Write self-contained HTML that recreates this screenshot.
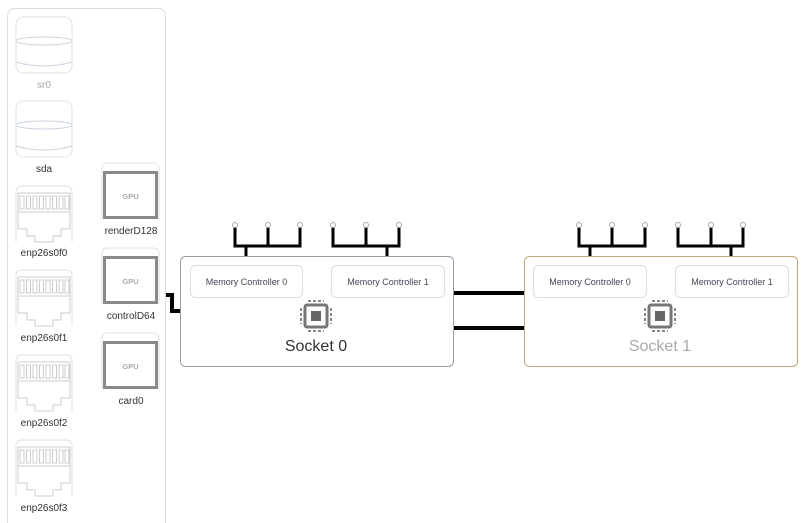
<!DOCTYPE html>
<html><head><meta charset="utf-8"><style>
html,body{margin:0;padding:0;background:#fff;}
svg{display:block;font-family:"Liberation Sans",sans-serif;}
</style></head><body>
<svg width="807" height="523" viewBox="0 0 807 523" xmlns="http://www.w3.org/2000/svg">
<defs>
<g id="disk">
<rect x="0" y="0" width="56" height="56" rx="7" fill="#fff" stroke="#e2e2e2"/>
<ellipse cx="28" cy="24" rx="28" ry="4" fill="none" stroke="#c8d4e0"/>
<path d="M0,45 Q28,53 56,45" fill="none" stroke="#c8d4e0"/>
</g>
<g id="eth">
<path d="M0,56 L0,6 Q0,0 6,0 L50,0 Q56,0 56,6 L56,56" fill="none" stroke="#e2e2e2"/>
<rect x="2" y="7" width="52" height="19" fill="none" stroke="#ccc"/>
<g fill="none" stroke="#ccc">
<rect x="4" y="10" width="4" height="13"/><rect x="10.5" y="10" width="4" height="13"/><rect x="17" y="10" width="4" height="13"/><rect x="23.5" y="10" width="4" height="13"/><rect x="30" y="10" width="4" height="13"/><rect x="36.5" y="10" width="4" height="13"/><rect x="43" y="10" width="4" height="13"/><rect x="49" y="10" width="4" height="13"/>
</g>
<path d="M2,26 L2,43 L11,43 L11,50 L19,50 L19,56 L37,56 L37,50 L45,50 L45,43 L54,43 L54,26" fill="none" stroke="#ccc"/>
</g>
<g id="gpu">
<path d="M0,56 L0,6 Q0,0 6,0 L51,0 Q57,0 57,6 L57,56" fill="none" stroke="#e2e2e2"/>
<rect x="2.5" y="9.5" width="52" height="45" fill="#fff" stroke="#8a8a8a" stroke-width="3"/>
<text x="28.5" y="36" font-size="7.5" fill="#aaa" text-anchor="middle" font-weight="bold">GPU</text>
</g>
<g id="chip">
<rect x="-11" y="-11" width="22" height="22" rx="2" fill="none" stroke="#777" stroke-width="3"/>
<rect x="-5" y="-5" width="10" height="10" fill="#666"/>
<g stroke="#888" stroke-width="2" stroke-dasharray="3,2">
<line x1="-8" y1="-15" x2="8" y2="-15"/><line x1="-8" y1="15" x2="8" y2="15"/>
<line x1="-15" y1="-8" x2="-15" y2="8"/><line x1="15" y1="-8" x2="15" y2="8"/>
</g>
</g>
</defs>

<rect x="7.5" y="8.5" width="158" height="530" rx="7" fill="#fff" stroke="#ddd"/>

<use href="#disk" x="16" y="17"/>
<text x="44" y="88" font-size="10" fill="#aaa" text-anchor="middle">sr0</text>
<use href="#disk" x="16" y="101"/>
<text x="44" y="172" font-size="10" fill="#333" text-anchor="middle">sda</text>
<use href="#eth" x="16" y="186"/>
<text x="44" y="256" font-size="10" fill="#333" text-anchor="middle">enp26s0f0</text>
<use href="#eth" x="16" y="270"/>
<text x="44" y="341" font-size="10" fill="#333" text-anchor="middle">enp26s0f1</text>
<use href="#eth" x="16" y="355"/>
<text x="44" y="426" font-size="10" fill="#333" text-anchor="middle">enp26s0f2</text>
<use href="#eth" x="16" y="440"/>
<text x="44" y="511" font-size="10" fill="#333" text-anchor="middle">enp26s0f3</text>

<use href="#gpu" x="102" y="163"/>
<text x="131" y="234" font-size="10" fill="#333" text-anchor="middle">renderD128</text>
<use href="#gpu" x="102" y="248"/>
<text x="131" y="319" font-size="10" fill="#333" text-anchor="middle">controlD64</text>
<use href="#gpu" x="102" y="333"/>
<text x="131" y="404" font-size="10" fill="#333" text-anchor="middle">card0</text>

<path d="M166,295 L172,295 L172,311 L181,311" fill="none" stroke="#000" stroke-width="4"/>

<line x1="454" y1="293" x2="524" y2="293" stroke="#000" stroke-width="4"/>
<line x1="454" y1="328" x2="524" y2="328" stroke="#000" stroke-width="4"/>

<!-- memory trees -->
<g fill="none" stroke="#000" stroke-width="3">
<path d="M235,225 V246 H300 V225 M268,225 V246 M246,246 V266"/>
<path d="M333,225 V246 H399 V225 M366,225 V246 M387,246 V266"/>
<path d="M579,225 V246 H645 V225 M612,225 V246 M590,246 V266"/>
<path d="M678,225 V246 H743 V225 M711,225 V246 M731,246 V266"/>
</g>
<g fill="#fff" stroke="#aaa" stroke-width="1">
<circle cx="235" cy="225" r="2.5"/><circle cx="268" cy="225" r="2.5"/><circle cx="300" cy="225" r="2.5"/>
<circle cx="333" cy="225" r="2.5"/><circle cx="366" cy="225" r="2.5"/><circle cx="399" cy="225" r="2.5"/>
<circle cx="579" cy="225" r="2.5"/><circle cx="612" cy="225" r="2.5"/><circle cx="645" cy="225" r="2.5"/>
<circle cx="678" cy="225" r="2.5"/><circle cx="711" cy="225" r="2.5"/><circle cx="743" cy="225" r="2.5"/>
</g>

<rect x="180.5" y="256.5" width="273" height="110" rx="5" fill="#fff" stroke="#9a9aa8"/>
<rect x="190.5" y="265.5" width="112" height="32" rx="5" fill="#fff" stroke="#ddd"/>
<text x="246.5" y="285" font-size="9" fill="#445" text-anchor="middle">Memory Controller 0</text>
<rect x="331.5" y="265.5" width="113" height="32" rx="5" fill="#fff" stroke="#ddd"/>
<text x="388" y="285" font-size="9" fill="#445" text-anchor="middle">Memory Controller 1</text>
<use href="#chip" x="316" y="316"/>
<text x="316" y="351" font-size="16" fill="#333" text-anchor="middle">Socket 0</text>

<rect x="524.5" y="256.5" width="273" height="110" rx="5" fill="#fff" stroke="#c8a47e"/>
<rect x="533.5" y="265.5" width="113" height="32" rx="5" fill="#fff" stroke="#ddd"/>
<text x="590" y="285" font-size="9" fill="#445" text-anchor="middle">Memory Controller 0</text>
<rect x="675.5" y="265.5" width="113" height="32" rx="5" fill="#fff" stroke="#ddd"/>
<text x="732" y="285" font-size="9" fill="#445" text-anchor="middle">Memory Controller 1</text>
<use href="#chip" x="660" y="316"/>
<text x="660" y="351" font-size="16" fill="#aaa" text-anchor="middle">Socket 1</text>
</svg>
</body></html>
